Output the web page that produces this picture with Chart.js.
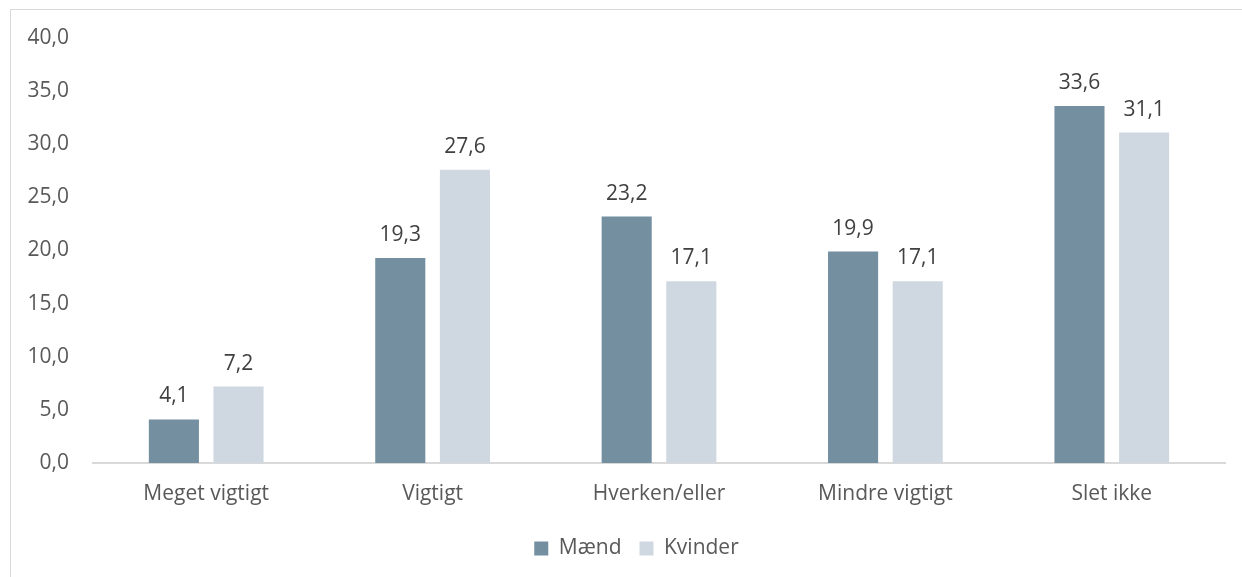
<!DOCTYPE html>
<html><head><meta charset="utf-8">
<script src="https://cdn.jsdelivr.net/npm/chart.js@4/dist/chart.umd.min.js"></script>
<style>
html,body{margin:0;padding:0;background:#fff;overflow:hidden;width:1242px;height:577px;}
#frame{position:absolute;left:10px;top:9px;width:1400px;height:800px;border:1px solid #d9d9d9;box-sizing:border-box;}
#wrap{position:absolute;left:0;top:0;width:1242px;height:577px;}
</style></head><body>
<div id="frame"></div>
<div id="wrap"><canvas id="c" width="1242" height="577"></canvas></div>
<script>
const categories = ["Meget vigtigt","Vigtigt","Hverken/eller","Mindre vigtigt","Slet ikke"];
const maend = [4.1, 19.3, 23.2, 19.9, 33.6];
const kvinder = [7.2, 27.6, 17.1, 17.1, 31.1];
const seriesNames = ["Mænd","Kvinder"];
const yTicks = [0,5,10,15,20,25,30,35,40];

const fmt = v => v.toFixed(1).replace('.', ',');
const FONT = "Open Sans";
const FS = 21;

const labelPlugin = {
  id: 'barLabels',
  afterLayout(chart){
    if (chart.legend) { chart.legend.left += 24; chart.legend.right += 24; }
  },
  afterDatasetsDraw(chart){
    const ctx = chart.ctx;
    ctx.save();
    ctx.font = FS + "px '" + FONT + "'";
    ctx.fillStyle = '#404040';
    ctx.textAlign = 'center';
    ctx.textBaseline = 'alphabetic';
    chart.data.datasets.forEach((ds, i) => {
      chart.getDatasetMeta(i).data.forEach((bar, j) => {
        ctx.fillText(fmt(ds.data[j]), bar.x, bar.y - 17);
      });
    });
    ctx.restore();
  }
};

new Chart(document.getElementById('c'), {
  type: 'bar',
  data: {
    labels: categories,
    datasets: [
      {label: seriesNames[0], data: maend, backgroundColor: '#738FA0', categoryPercentage: 0.571, barPercentage: 0.775},
      {label: seriesNames[1], data: kvinder, backgroundColor: '#CFD8E0', categoryPercentage: 0.571, barPercentage: 0.775}
    ]
  },
  options: {
    responsive: false,
    animation: false,
    layout: {padding: {left: 0, right: 17, top: 38, bottom: 8}},
    plugins: {
      legend: {
        position: 'bottom',
        labels: {boxWidth: 14, boxHeight: 14, font: {family: FONT, size: FS}, color: '#595959', padding: 18}
      },
      tooltip: {enabled: false}
    },
    scales: {
      x: {
        grid: {display: false},
        border: {display: true, color: '#d9d9d9', width: 2},
        afterFit: s => { s.height = 57; },
        ticks: {font: {family: FONT, size: FS}, color: '#595959', padding: 10}
      },
      y: {
        min: 0, max: 40,
        afterBuildTicks: s => { s.ticks = yTicks.map(v => ({value: v})); },
        afterFit: s => { s.width = 93; },
        grid: {display: false, drawTicks: false},
        border: {display: false},
        ticks: {font: {family: FONT, size: FS}, color: '#595959', padding: 24, callback: v => fmt(v)}
      }
    }
  },
  plugins: [labelPlugin]
});
</script>
</body></html>
